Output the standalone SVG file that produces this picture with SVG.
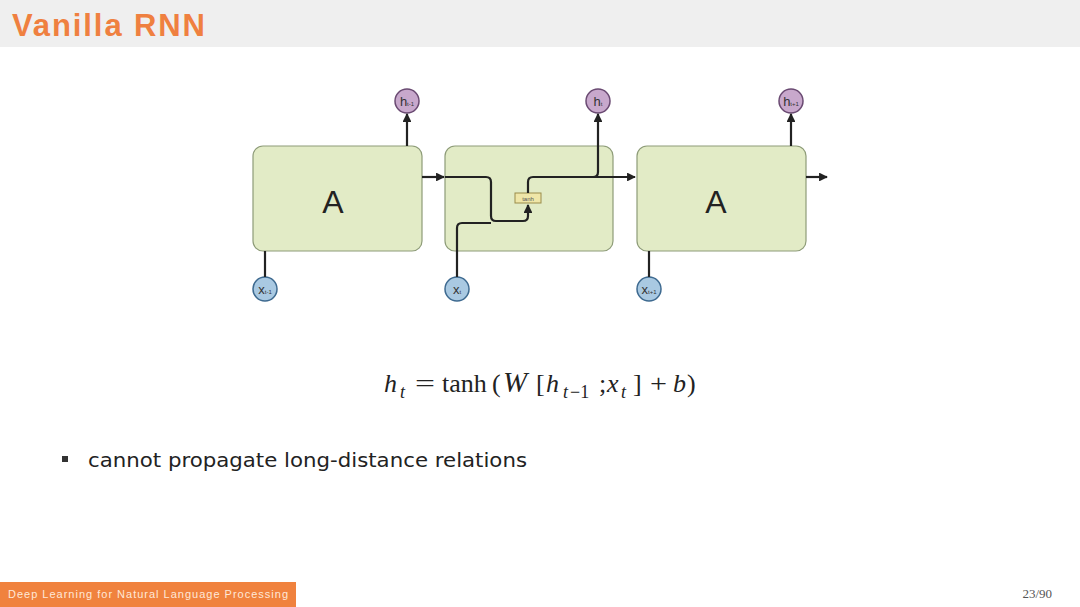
<svg xmlns="http://www.w3.org/2000/svg" width="1080" height="607" viewBox="0 0 1080 607">
<defs>
<marker id="ah" viewBox="0 0 10 10" refX="9" refY="5" markerWidth="4" markerHeight="4" orient="auto" markerUnits="strokeWidth">
<path d="M0,0 L10,5 L0,10 z" fill="#222"/>
</marker>
<style>
.cell{fill:#e2ebc6;stroke:#8e9c78;stroke-width:1.2}
.lbl{font-family:"Liberation Sans",Arial,sans-serif;font-size:32px;fill:#222;text-anchor:middle}
.hc{fill:#c8a8cc;stroke:#6a4a72;stroke-width:1.5}
.xc{fill:#a9c9e2;stroke:#3e6a90;stroke-width:1.5}
.ct{font-family:"Liberation Sans",Arial,sans-serif;font-size:13px;fill:#333;text-anchor:middle}
.ln{fill:none;stroke:#222;stroke-width:2.2}
.m{font-family:"Liberation Serif","Times New Roman",serif;font-size:26px;fill:#222}
.i{font-style:italic}
.s{font-size:18px}
</style>
</defs>
<rect x="0" y="0" width="1080" height="607" fill="#ffffff"/>
<rect x="0" y="0" width="1080" height="47" fill="#efefef"/>
<text x="12" y="36" font-family="Liberation Sans,Arial,sans-serif" font-size="31" font-weight="bold" fill="#ef8040" textLength="193" lengthAdjust="spacing">Vanilla RNN</text>

<g id="cell1"><rect class="cell" x="253" y="146" width="169" height="105" rx="10"/><text class="lbl" x="333" y="213">A</text></g>
<g id="cell2"><rect class="cell" x="445" y="146" width="168" height="105" rx="10"/></g>
<g id="cell3"><rect class="cell" x="637" y="146" width="169" height="105" rx="10"/><text class="lbl" x="716" y="213">A</text></g>

<g id="h_prev"><circle class="hc" cx="407" cy="101" r="12"/><text class="ct" x="407" y="106">h<tspan font-size="6">t-1</tspan></text></g>
<g id="h_t"><circle class="hc" cx="598" cy="101" r="12"/><text class="ct" x="598" y="106">h<tspan font-size="6">t</tspan></text></g>
<g id="h_next"><circle class="hc" cx="791" cy="101" r="12"/><text class="ct" x="791" y="106">h<tspan font-size="6">t+1</tspan></text></g>
<g id="x_prev"><circle class="xc" cx="265" cy="289" r="12"/><text class="ct" x="265" y="294">x<tspan font-size="6">t-1</tspan></text></g>
<g id="x_t"><circle class="xc" cx="457" cy="289" r="12"/><text class="ct" x="457" y="294">x<tspan font-size="6">t</tspan></text></g>
<g id="x_next"><circle class="xc" cx="649" cy="289" r="12"/><text class="ct" x="649" y="294">x<tspan font-size="6">t+1</tspan></text></g>

<g id="tanh"><rect x="515" y="193" width="26" height="10" fill="#efe6a8" stroke="#9a8c4a" stroke-width="1"/><text x="528" y="200.5" font-family="Liberation Sans,Arial,sans-serif" font-size="6" fill="#555" text-anchor="middle">tanh</text></g>

<g id="connectors">
<path class="ln" d="M407,146 V114" marker-end="url(#ah)"/>
<path class="ln" d="M422,177 H444" marker-end="url(#ah)"/>
<path class="ln" d="M445,177 H486 Q491,177 491,182 V216 Q491,221 496,221 H523 Q528,221 528,216 V205" marker-end="url(#ah)"/>
<path class="ln" d="M457,277 V228 Q457,223 462,223 H491"/>
<path class="ln" d="M528,193 V182 Q528,177 533,177 H635" marker-end="url(#ah)"/>
<path class="ln" d="M593,177 Q598,177 598,172 V114" marker-end="url(#ah)"/>
<path class="ln" d="M791,146 V114" marker-end="url(#ah)"/>
<path class="ln" d="M806,177 H827" marker-end="url(#ah)"/>
<path class="ln" d="M265,277 V251"/>
<path class="ln" d="M649,277 V251"/>
</g>

<text class="m" y="392"><tspan class="i" x="384">h</tspan><tspan class="i s" x="400" y="398">t</tspan><tspan x="415" y="392" textLength="20" lengthAdjust="spacingAndGlyphs">=</tspan><tspan x="442">tanh</tspan><tspan x="492">(</tspan><tspan class="i" x="503" font-size="29">W</tspan><tspan x="536">[</tspan><tspan class="i" x="546">h</tspan><tspan class="i s" x="563" y="398">t</tspan><tspan class="s" x="570">−1</tspan><tspan x="599" y="392">;</tspan><tspan class="i" x="607">x</tspan><tspan class="i s" x="621" y="398">t</tspan><tspan x="633" y="392">]</tspan><tspan x="650" textLength="17" lengthAdjust="spacingAndGlyphs">+</tspan><tspan class="i" x="673">b</tspan><tspan x="687">)</tspan></text>

<rect x="62" y="456" width="6" height="6" fill="#333"/>
<text x="88" y="467" font-family="DejaVu Sans,sans-serif" font-size="20" fill="#222" textLength="439" lengthAdjust="spacingAndGlyphs">cannot propagate long-distance relations</text>

<rect x="0" y="582" width="296" height="25" fill="#f0823e"/>
<text x="8" y="598" font-family="Liberation Sans,Arial,sans-serif" font-size="11" fill="#ffe8d8" textLength="280">Deep Learning for Natural Language Processing</text>
<text x="1052" y="598" font-family="Liberation Serif,serif" font-size="13" fill="#555" text-anchor="end">23/90</text>
</svg>
